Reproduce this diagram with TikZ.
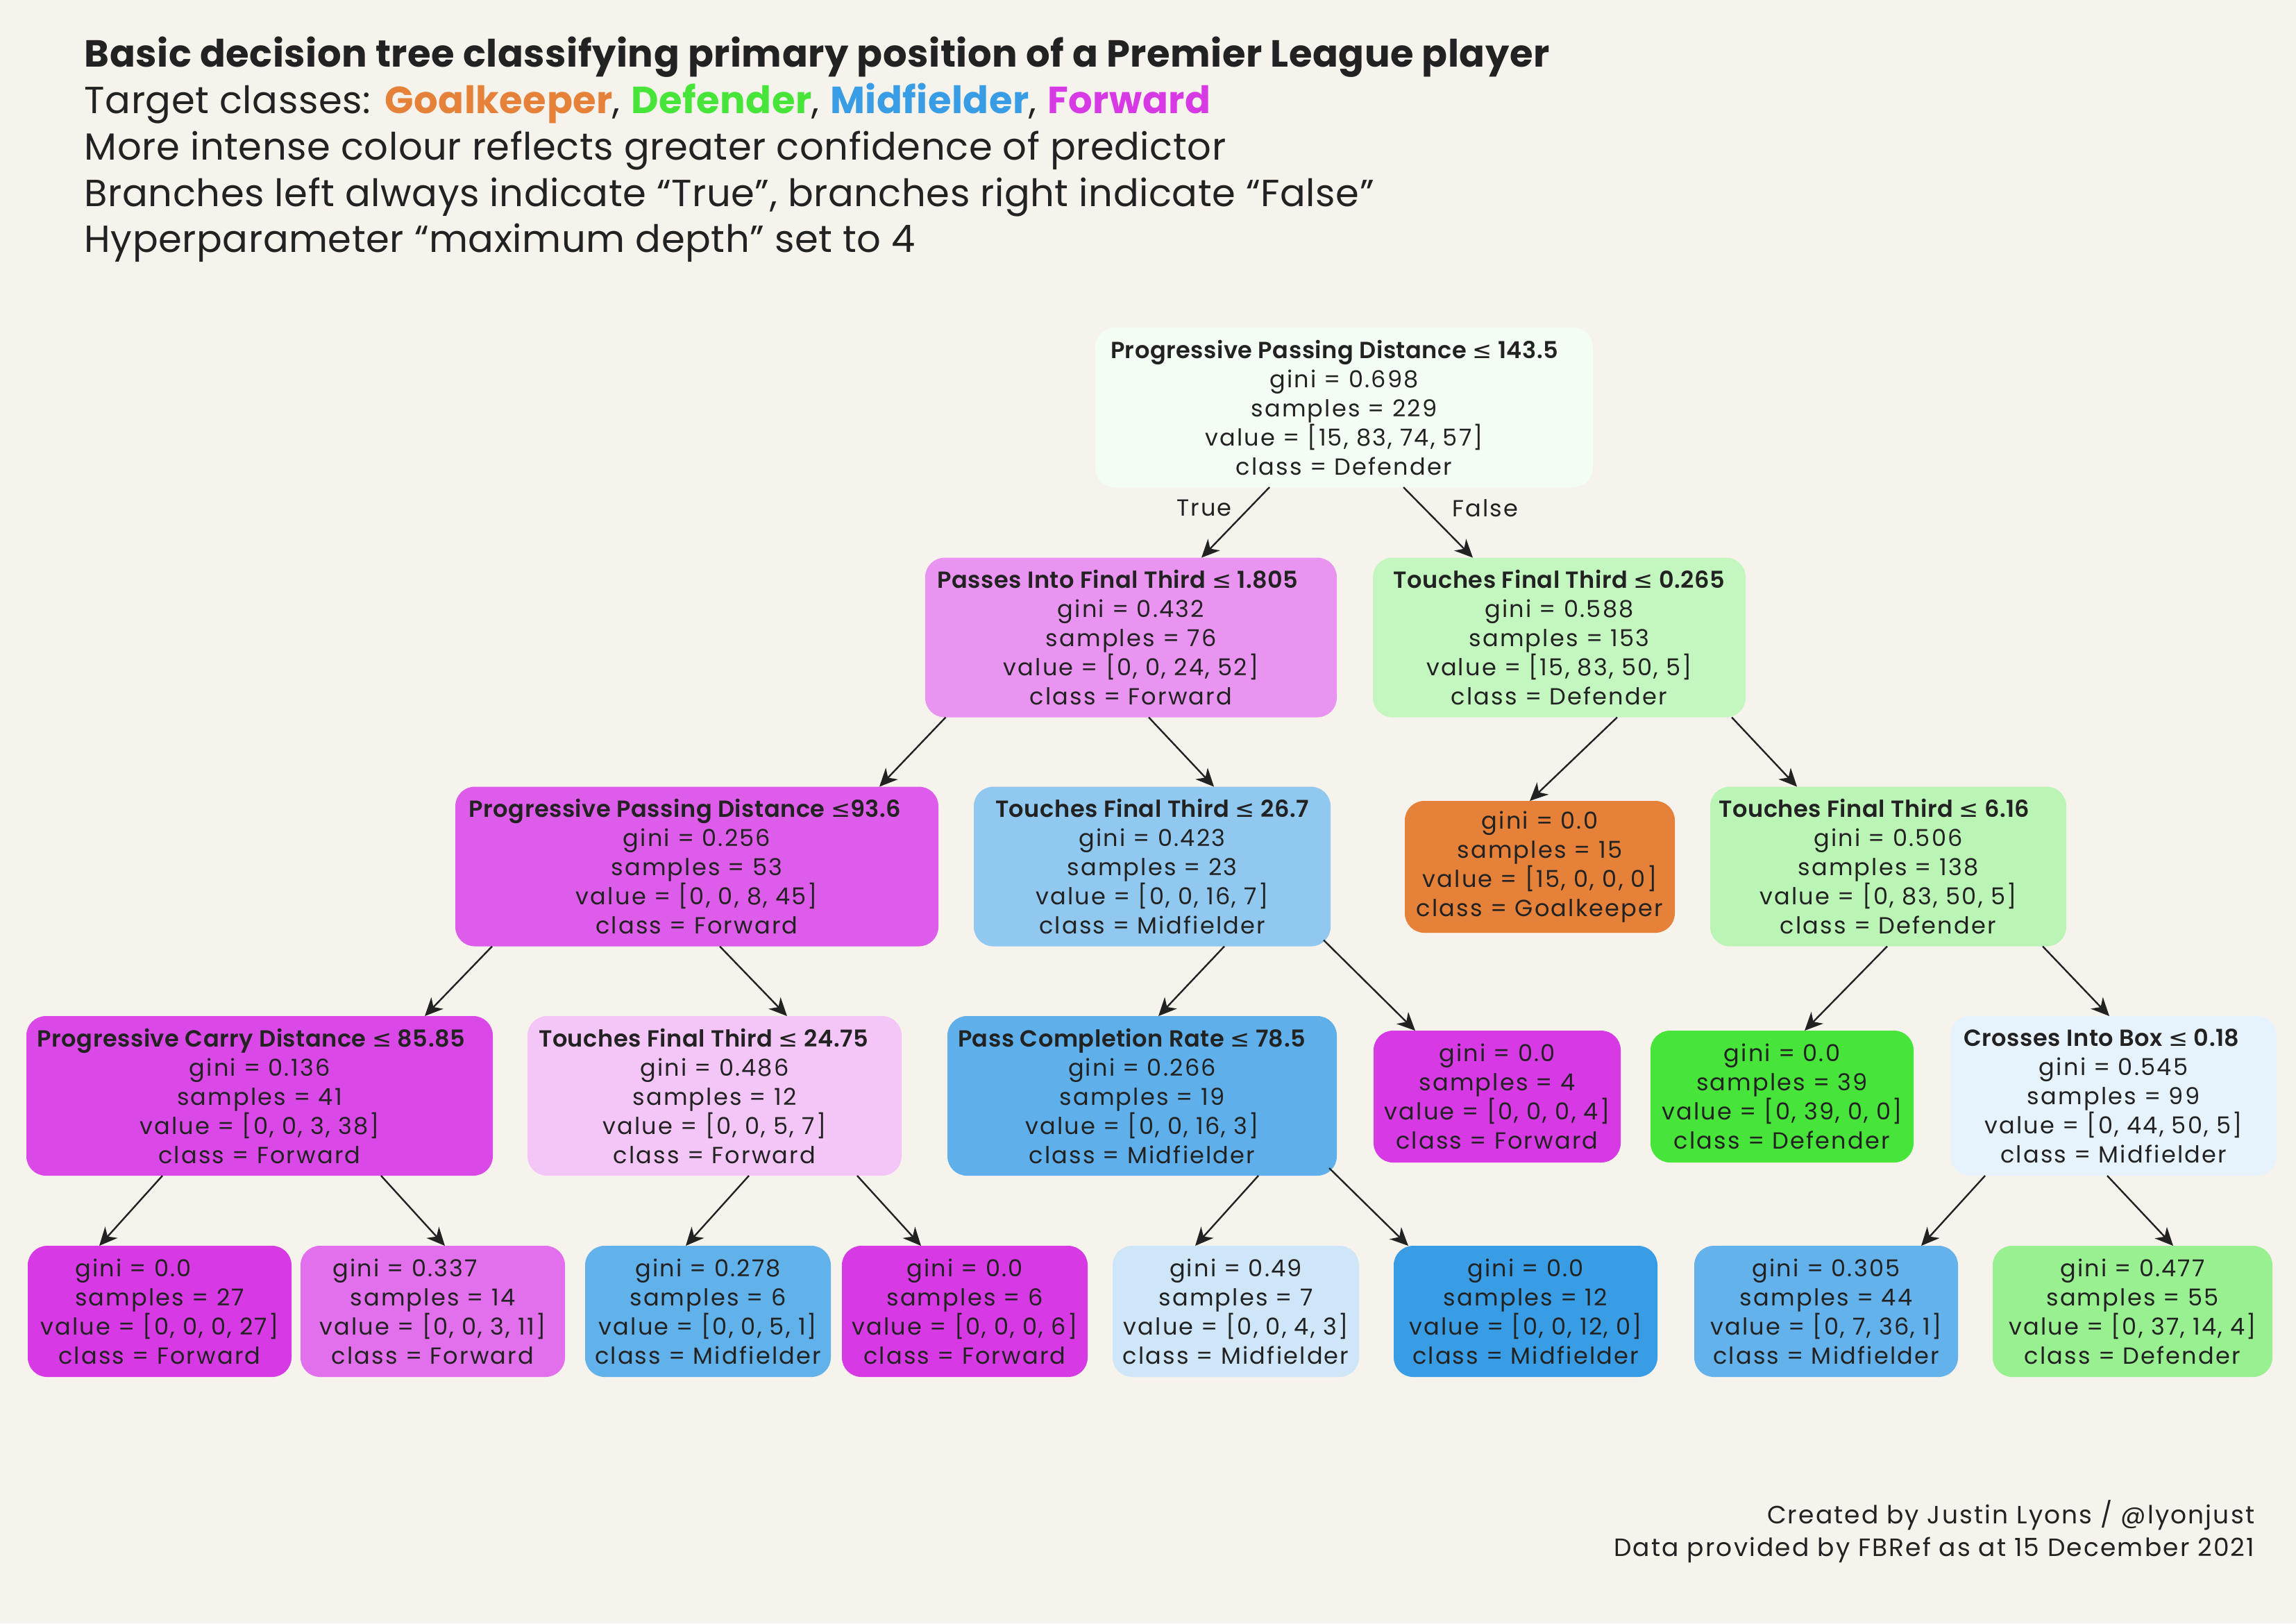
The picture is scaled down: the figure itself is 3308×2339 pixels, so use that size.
\documentclass[tikz,border=0pt]{standalone}
\usepackage{fontspec}
\setmainfont{Poppins}[LetterSpace=1]
\newfontfamily\nodefont{Poppins}[LetterSpace=6.5]
\newfontfamily\footfont{Poppins}[LetterSpace=6]
\newfontfamily\headfont{Poppins SemiBold}[LetterSpace=1.5]
\newfontfamily\symfont{DejaVu Sans}
\usetikzlibrary{arrows.meta,calc}
\definecolor{bg}{HTML}{F6F3ED}
\definecolor{ink}{HTML}{222222}
\definecolor{cGK}{HTML}{E58139}
\definecolor{cDF}{HTML}{47E539}
\definecolor{cMF}{HTML}{399DE5}
\definecolor{cFW}{HTML}{D739E5}
\definecolor{cRoot}{HTML}{F4FDF4}
\definecolor{cA}{HTML}{E994F1}
\definecolor{cB}{HTML}{C4F7C0}
\definecolor{cC}{HTML}{DE5CEA}
\definecolor{cD}{HTML}{90C8F0}
\definecolor{cF}{HTML}{BAF5B5}
\definecolor{cG}{HTML}{DA49E7}
\definecolor{cH}{HTML}{F4C6F8}
\definecolor{cI}{HTML}{5EAFEA}
\definecolor{cL}{HTML}{E7F3FC}
\definecolor{cN}{HTML}{E26FEC}
\definecolor{cO}{HTML}{61B1EA}
\definecolor{cQ}{HTML}{CEE6F8}
\definecolor{cS}{HTML}{64B2EB}
\definecolor{cT}{HTML}{98F090}
\newcommand\lesym{{\symfont ≤}}
\newcommand\hd[1]{{\headfont #1}}
\tikzset{
  box/.style={rounded corners=7pt, inner sep=0pt, outer sep=0pt, align=center,
    text=ink, font=\nodefont\fontsize{8.4pt}{10.5pt}\selectfont},
  wh/.style 2 args={minimum width=#1*0.25pt, minimum height=#2*0.25pt},
  arr/.style={draw=ink, line width=0.6pt, -{Stealth[length=6.5pt, width=6pt, inset=2pt]}},
  titleline/.style={anchor=base west, inner sep=0pt, text=ink, font=\fontsize{13.6pt}{16pt}\selectfont},
  foot/.style={anchor=base east, inner sep=0pt, text=ink, font=\footfont\fontsize{9pt}{11pt}\selectfont},
  lab/.style={inner sep=0pt, text=ink, font=\nodefont\fontsize{8.4pt}{10.5pt}\selectfont}
}
\begin{document}
\begin{tikzpicture}[x=0.25pt, y=-0.25pt]
\path[fill=bg, use as bounding box] (0,0) rectangle (3308,2339);
% title
\node[titleline, font=\fontsize{13.6pt}{16pt}\selectfont\bfseries] (t1) at (121,96) {Basic decision tree classifying primary position of a Premier League player};
\node[titleline] (t2) at (121,163) {Target classes: \textbf{\textcolor{cGK}{Goalkeeper}}, \textbf{\textcolor{cDF}{Defender}}, \textbf{\textcolor{cMF}{Midfielder}}, \textbf{\textcolor{cFW}{Forward}}};
\node[titleline] (t3) at (121,230) {More intense colour reflects greater confidence of predictor};
\node[titleline] (t4) at (121,297) {Branches left always indicate “True”, branches right indicate “False”};
\node[titleline] (t5) at (121,363) {Hyperparameter “maximum depth” set to 4};
% nodes
\node[box, wh={717}{230}, fill=cRoot] (root) at (1936.5,587) {\hd{Progressive Passing Distance \lesym{} 143.5}\hspace*{7pt}\\gini = 0.698\\samples = 229\\value = [15, 83, 74, 57]\\class = Defender};
\node[box, wh={593}{230}, fill=cA] (A) at (1629.5,918.5) {\hd{Passes Into Final Third \lesym{} 1.805}\hspace*{9.5pt}\\gini = 0.432\\samples = 76\\value = [0, 0, 24, 52]\\class = Forward};
\node[box, wh={537}{230}, fill=cB] (B) at (2246.5,918.5) {\hd{Touches Final Third \lesym{} 0.265}\\gini = 0.588\\samples = 153\\value = [15, 83, 50, 5]\\class = Defender};
\node[box, wh={696}{230}, fill=cC] (C) at (1004,1248.5) {\hd{Progressive Passing Distance \lesym{}93.6}\hspace*{8.5pt}\\gini = 0.256\\samples = 53\\value = [0, 0, 8, 45]\\class = Forward};
\node[box, wh={514}{230}, fill=cD] (D) at (1660,1248.5) {\hd{Touches Final Third \lesym{} 26.7}\\gini = 0.423\\samples = 23\\value = [0, 0, 16, 7]\\class = Midfielder};
\node[box, wh={389}{190}, fill=cGK] (E) at (2218.5,1249) {gini = 0.0\\samples = 15\\value = [15, 0, 0, 0]\\class = Goalkeeper};
\node[box, wh={513}{230}, fill=cF] (F) at (2720.5,1248.5) {\hd{Touches Final Third \lesym{} 6.16}\hspace*{10pt}\\gini = 0.506\\samples = 138\\value = [0, 83, 50, 5]\\class = Defender};
\node[box, wh={672}{230}, fill=cG] (G) at (374,1579) {\hd{Progressive Carry Distance \lesym{} 85.85}\hspace*{6pt}\\gini = 0.136\\samples = 41\\value = [0, 0, 3, 38]\\class = Forward};
\node[box, wh={539}{230}, fill=cH] (H) at (1029.5,1579) {\hd{Touches Final Third \lesym{} 24.75}\hspace*{8pt}\\gini = 0.486\\samples = 12\\value = [0, 0, 5, 7]\\class = Forward};
\node[box, wh={561}{230}, fill=cI] (I) at (1645.5,1579) {\hd{Pass Completion Rate \lesym{} 78.5}\hspace*{7.5pt}\\gini = 0.266\\samples = 19\\value = [0, 0, 16, 3]\\class = Midfielder};
\node[box, wh={356}{190}, fill=cFW] (J) at (2157,1580) {gini = 0.0\\samples = 4\\value = [0, 0, 0, 4]\\class = Forward};
\node[box, wh={379}{190}, fill=cDF] (K) at (2567.5,1580) {gini = 0.0\\samples = 39\\value = [0, 39, 0, 0]\\class = Defender};
\node[box, wh={470}{230}, fill=cL] (L) at (3045,1579) {\hd{Crosses Into Box \lesym{} 0.18}\hspace*{8.5pt}\\gini = 0.545\\samples = 99\\value = [0, 44, 50, 5]\\class = Midfielder};
\node[box, wh={380}{189}, fill=cFW] (M) at (230,1889.5) {gini = 0.0\hspace*{19pt}\\samples = 27\\value = [0, 0, 0, 27]\\class = Forward};
\node[box, wh={381}{189}, fill=cN] (N) at (623.5,1889.5) {gini = 0.337\hspace*{20pt}\\samples = 14\\value = [0, 0, 3, 11]\\class = Forward};
\node[box, wh={354}{189}, fill=cO] (O) at (1020,1889.5) {gini = 0.278\\samples = 6\\value = [0, 0, 5, 1]\\class = Midfielder};
\node[box, wh={354}{189}, fill=cFW] (P) at (1390,1889.5) {gini = 0.0\\samples = 6\\value = [0, 0, 0, 6]\\class = Forward};
\node[box, wh={355}{189}, fill=cQ] (Q) at (1780.5,1889.5) {gini = 0.49\\samples = 7\\value = [0, 0, 4, 3]\\class = Midfielder};
\node[box, wh={380}{189}, fill=cMF] (R) at (2198,1889.5) {gini = 0.0\\samples = 12\\value = [0, 0, 12, 0]\\class = Midfielder};
\node[box, wh={380}{189}, fill=cS] (S) at (2631,1889.5) {gini = 0.305\\samples = 44\\value = [0, 7, 36, 1]\\class = Midfielder};
\node[box, wh={403}{189}, fill=cT] (T) at (3072.5,1889.5) {gini = 0.477\\samples = 55\\value = [0, 37, 14, 4]\\class = Defender};
% edges
\draw[arr] ($(root.south)+(-107.5,0)$) -- ($(A.north)+(101.5,0)$);
\draw[arr] ($(root.south)+(85.5,0)$) -- ($(B.north)+(-124.5,0)$);
\draw[arr] ($(A.south)+(-267,0)$) -- ($(C.north)+(263,0)$);
\draw[arr] ($(A.south)+(25.5,0)$) -- ($(D.north)+(89,0)$);
\draw[arr] ($(B.south)+(83.5,0)$) -- ($(E.north)+(-14.5,0)$);
\draw[arr] ($(B.south)+(248.5,0)$) -- ($(F.north)+(-131.5,0)$);
\draw[arr] ($(C.south)+(-295,0)$) -- ($(G.north)+(238,0)$);
\draw[arr] ($(C.south)+(33,0)$) -- ($(H.north)+(104.5,0)$);
\draw[arr] ($(D.south)+(104,0)$) -- ($(I.north)+(23.5,0)$);
\draw[arr] ($(D.south)+(247,-9)$) -- ($(J.north)+(-118,0)$);
\draw[arr] ($(F.south)+(-1.5,0)$) -- ($(K.north)+(32.5,0)$);
\draw[arr] ($(F.south)+(222.5,0)$) -- ($(L.north)+(-6,0)$);
\draw[arr] ($(G.south)+(-140,0)$) -- ($(M.north)+(-87,0)$);
\draw[arr] ($(G.south)+(175,0)$) -- ($(N.north)+(17.5,0)$);
\draw[arr] ($(H.south)+(49.5,0)$) -- ($(O.north)+(-32,0)$);
\draw[arr] ($(H.south)+(205.5,0)$) -- ($(P.north)+(-63,0)$);
\draw[arr] ($(I.south)+(167.5,0)$) -- ($(Q.north)+(-58.5,0)$);
\draw[arr] ($(I.south)+(269.5,-11)$) -- ($(R.north)+(-169,0)$);
\draw[arr] ($(L.south)+(-185,0)$) -- ($(S.north)+(137,0)$);
\draw[arr] ($(L.south)+(-9,0)$) -- ($(T.north)+(58.5,0)$);
% branch labels
\node[lab] (ltrue) at (1735,732) {True};
\node[lab] (lfalse) at (2140,732) {False};
% footer
\node[foot] (f1) at (3249,2195) {Created by Justin Lyons / @lyonjust};
\node[foot] (f2) at (3249,2242) {Data provided by FBRef as at 15 December 2021};
\end{tikzpicture}
\end{document}
